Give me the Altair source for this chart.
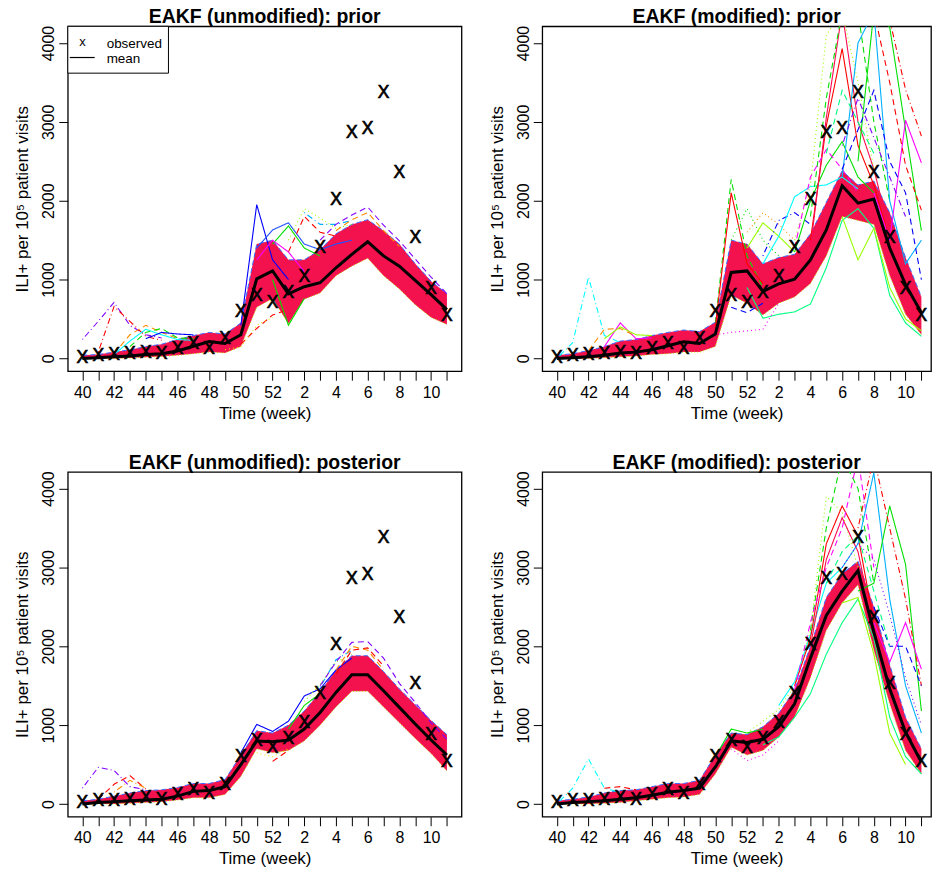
import json
import altair as alt
import pandas as pd

# ---------------- data ----------------
weeks = [40, 41, 42, 43, 44, 45, 46, 47, 48, 49, 50, 51, 52, 1, 2, 3, 4, 5, 6, 7, 8, 9, 10, 11]
week_labels = [str(w) if i % 2 == 0 else "" for i, w in enumerate(weeks)]
y_ticks = [0, 1000, 2000, 3000, 4000]

observed = [8, 35, 40, 50, 70, 55, 115, 177, 125, 245, 590, 797, 704, 830, 1033, 1400,
            2010, 2855, 2904, 3368, 2356, 1526, 881, 535]

# EAKF (unmodified): prior
tl_mean = [0, 10, 20, 30, 50, 60, 95, 155, 215, 190, 300, 1010, 1110, 820, 910, 960,
           1150, 1320, 1480, 1300, 1170, 990, 810, 620]
tl_low = [0, 0, 0, 5, 15, 25, 40, 60, 80, 70, 150, 650, 760, 440, 750, 830,
          1050, 1170, 1270, 1050, 880, 680, 520, 430]
tl_high = [40, 50, 80, 110, 150, 180, 240, 290, 330, 310, 450, 1450, 1500, 1250, 1250, 1380,
           1580, 1700, 1760, 1620, 1450, 1200, 980, 820]
tl_member_start = [0, 1, 2, 2, 3, 4, 10, 11, 12, 13, 14, 13, 15, 16, 10, 9, 11, 12]
tl_member_values = [
    [240, 470, 710, 420, 300, 260],
    [80, 660, 470, 280, 230],
    [60, 300, 420, 330, 250],
    [50, 220, 370, 300, 240, 230],
    [150, 330, 380, 260, 250],
    [250, 330, 310, 300],
    [420, 1950, 1250, 1000],
    [1400, 1630, 1720, 1450, 1380, 1450, 1500],
    [1450, 1680, 1400, 1300],
    [1500, 1900, 1780, 1650, 1700],
    [1850, 1700, 1700, 1750],
    [1350, 1800, 1600, 1550],
    [1500, 1700, 1820, 1920, 1690, 1490, 1260, 1030, 820],
    [1620, 1760, 1850, 1620, 1420],
    [180, 380, 550, 620],
    [110, 150, 420, 520],
    [1250, 1500, 1350, 1100],
    [1000, 420, 760],
]

# EAKF (modified): prior
tr_mean = [0, 10, 20, 40, 70, 80, 110, 160, 210, 190, 310, 1090, 1110, 850, 945, 1005,
           1250, 1630, 2190, 1970, 2020, 1400, 935, 578]
tr_low = [0, 0, 0, 10, 20, 30, 50, 60, 80, 80, 150, 800, 700, 550, 700, 780,
          950, 1300, 1800, 1750, 1700, 1050, 560, 300]
tr_high = [40, 60, 100, 150, 220, 240, 290, 330, 360, 340, 460, 1500, 1450, 1200, 1280, 1320,
           1580, 1980, 2380, 2200, 2250, 1850, 1280, 780]
tr_member_start = [0, 3, 2, 3, 10, 10, 11, 12, 12, 13, 13, 15, 16, 16, 16, 15, 15, 18, 19,
                   20, 20, 20, 18, 12, 18, 10, 11, 17, 18]
tr_member_values = [
    [0, 200, 1030, 290, 200],
    [150, 450, 250, 260],
    [100, 370, 380, 280],
    [250, 400, 300, 290],
    [450, 2270, 1300, 900],
    [400, 2100, 1200, 950],
    [1500, 1900, 1500, 1300],
    [1600, 1850, 1700, 1500],
    [1400, 1720, 1550, 1350],
    [1300, 1750, 1850, 1700],
    [1200, 1550, 2050, 2180, 2200, 2300, 2150],
    [1350, 2000, 2450, 2750, 2300, 2100],
    [1500, 2950, 3930, 2700, 2200, 1500],
    [1400, 3050, 4400, 3000, 2400, 1600],
    [1800, 3300, 4400, 4400, 3000, 2000],
    [1500, 2200, 4100, 4400, 3500, 2400],
    [1400, 2300, 2650, 2400, 2100],
    [2300, 4000, 4400, 2000, 1200, 1500],
    [2500, 4400, 4200, 2900, 1620],
    [2100, 1500, 3020, 2480],
    [4400, 3500, 2450, 1880],
    [4400, 4300, 3410, 2820],
    [2400, 2900, 3400, 2500, 2100, 1000],
    [900, 510, 560, 590, 690, 1150, 1750, 1900, 1650, 800, 450, 280],
    [1800, 1250, 1650, 900, 500, 350],
    [300, 330, 350, 370, 700],
    [650, 580, 700],
    [2600, 3400, 3000, 2600],
    [2700, 3300, 2800, 2300, 1800],
]

# EAKF (unmodified): posterior
bl_mean = [0, 20, 30, 40, 50, 60, 100, 160, 170, 220, 500, 800, 790, 810, 950, 1160,
           1415, 1640, 1640, 1436, 1225, 1014, 811, 621]
bl_low = [0, 0, 0, 10, 20, 30, 50, 80, 80, 120, 350, 700, 650, 680, 800, 1000,
          1230, 1430, 1430, 1230, 1030, 830, 640, 420]
bl_high = [40, 60, 100, 140, 170, 180, 210, 260, 260, 310, 620, 930, 900, 1000, 1180, 1420,
           1700, 1880, 1880, 1680, 1460, 1260, 1060, 880]
bl_member_start = [0, 1, 2, 10, 13, 14, 15, 16, 16, 15, 11, 12]
bl_member_values = [
    [200, 465, 425, 220, 180],
    [60, 250, 360, 190],
    [150, 300, 200],
    [650, 1010, 920, 1050, 1370, 1460, 1700, 1850],
    [950, 1250, 1400],
    [1300, 1520, 1800, 1900],
    [1480, 1830, 1950],
    [1700, 2000, 1950, 1700],
    [1650, 1950, 1980, 1750],
    [1500, 1800, 2050, 2060, 1850, 1530, 1290, 1030, 820],
    [650, 600, 700],
    [540, 680],
]

# EAKF (modified): posterior
br_mean = [0, 20, 30, 40, 60, 80, 110, 150, 170, 200, 470, 800, 780, 820, 980, 1270,
           1850, 2390, 2700, 2960, 2180, 1460, 910, 530]
br_low = [0, 0, 0, 10, 20, 40, 60, 80, 90, 120, 380, 720, 620, 680, 850, 1100,
          1600, 2200, 2550, 2780, 1950, 1270, 680, 380]
br_high = [40, 60, 90, 140, 170, 180, 220, 260, 260, 300, 620, 900, 880, 980, 1150, 1450,
           2000, 2620, 2920, 3080, 2500, 1770, 1100, 700]
br_member_start = [0, 3, 10, 12, 14, 15, 16, 16, 15, 18, 19, 19, 20, 20, 13, 18, 11, 17, 18]
br_member_values = [
    [0, 200, 570, 200, 150],
    [200, 220, 180],
    [600, 950, 900, 950],
    [900, 1050, 1200, 1500, 2200, 3900, 3700, 3000],
    [1250, 1550, 2150, 2800, 3000],
    [1500, 2100, 3300, 3780, 3400, 2300],
    [2000, 3100, 3630, 3200, 2250],
    [2200, 3500, 4400, 4000, 2800],
    [1450, 2300, 3000, 3500, 4400, 3000],
    [3000, 3300, 4200, 2600, 1500, 900],
    [2700, 2800, 3780, 3040, 1180],
    [3500, 4400, 3500, 2600, 1500],
    [2300, 1800, 2300, 1710],
    [2500, 2000, 2000, 1500],
    [750, 850, 1100, 1400, 1900, 2300, 2600, 2100, 1100, 600, 380],
    [2550, 2620, 1900, 900, 500],
    [700, 550, 620, 800],
    [2800, 3200, 3400, 2700, 2000],
    [3000, 3300, 3100, 2400, 1600, 1000],
]

# ---------------- styles ----------------
tl_member_styles = [("purple", "dashdot"), ("red", "dashdot"), ("orange", "dashed"), ("cyan", "solid"),
                    ("green", "dashed"), ("blue", "solid"), ("blue", "solid"), ("royal", "solid"),
                    ("green", "solid"), ("yellowgreen", "dotted"), ("deepsky", "dashdot"),
                    ("red", "dashed"), ("purple", "dashed"), ("orange", "dashed"), ("red", "dashed"),
                    ("yellow", "dotted"), ("magenta", "solid"), ("green", "solid")]
tr_member_styles = [("cyan", "dashdot"), ("magenta", "solid"), ("orange", "dashed"), ("yellowgreen", "solid"),
                    ("green", "dashed"), ("red", "solid"), ("green", "dotted"), ("orange", "dotted"),
                    ("yellowgreen", "solid"), ("blue", "dashdot"), ("cyan", "solid"), ("green", "solid"),
                    ("red", "solid"), ("crimson", "solid"), ("green", "dashed"), ("yellowgreen", "dotted"),
                    ("magenta", "dashed"), ("deepsky", "solid"), ("green", "solid"), ("magenta", "solid"),
                    ("red", "dashed"), ("red", "dashdot"), ("blue", "dashed"), ("springgreen", "solid"),
                    ("yellowgreen", "solid"), ("magenta", "dotted"), ("blue", "dashed"),
                    ("springgreen", "dashed"), ("purple", "dashdot")]
bl_member_styles = [("purple", "dashdot"), ("red", "dashed"), ("orange", "dashdot"), ("blue", "solid"),
                    ("green", "solid"), ("yellowgreen", "dotted"), ("deepsky", "dashdot"),
                    ("orange", "dashed"), ("red", "dashed"), ("purple", "dashed"), ("yellow", "dotted"),
                    ("red", "dashed")]
br_member_styles = [("cyan", "dashdot"), ("red", "dashed"), ("green", "solid"), ("yellowgreen", "dotted"),
                    ("cyan", "solid"), ("red", "solid"), ("crimson", "solid"), ("green", "dashed"),
                    ("magenta", "dashed"), ("deepsky", "solid"), ("green", "solid"), ("red", "dashdot"),
                    ("magenta", "solid"), ("blue", "dashed"), ("springgreen", "solid"),
                    ("yellowgreen", "solid"), ("magenta", "dotted"), ("springgreen", "dashed"),
                    ("purple", "dotted")]

palette = {"red": "#FF0000", "crimson": "#FF0A50", "orange": "#FF8C00", "yellow": "#E8E800",
           "yellowgreen": "#99FF00", "green": "#00E000", "springgreen": "#00FF80", "cyan": "#00FFFF",
           "deepsky": "#00B0FF", "blue": "#0000FF", "royal": "#2050FF", "purple": "#8000FF",
           "magenta": "#FF00FF"}
dashes = {"solid": [1, 0], "dashed": [6, 4], "dotted": [1, 3], "dashdot": [1, 3, 6, 3]}

FONT = "Liberation Sans"
BAND = "#F4124E"
H = 346
PX_PER_WEEK = 395 / 24.84
Y_DOMAIN = [-162, 4212]


def make_panel(title, mean, low, high, m_start, m_values, m_styles, width, legend=False):
    xdom = [-0.92, -0.92 + width / PX_PER_WEEK]
    idx = list(range(len(weeks)))
    base = pd.DataFrame({"idx": idx, "mean": mean, "low": low, "high": high, "obs": observed})

    rows = []
    for k, (s, vals) in enumerate(zip(m_start, m_values)):
        col, dash = m_styles[k]
        for j, v in enumerate(vals):
            rows.append({"mid": k, "idx": s + j, "value": v, "col": col, "dash": dash})
    members = pd.DataFrame(rows)

    label_expr = json.dumps(week_labels) + "[datum.value]"
    xaxis = alt.Axis(values=idx, labelExpr=label_expr, title="Time (week)", domain=False, grid=False,
                     tickSize=9, tickColor="black", tickWidth=1, labelFont=FONT, labelFontSize=16,
                     labelColor="black", labelBaseline="alphabetic", labelPadding=17, labelAngle=0,
                     labelFlush=False, labelOverlap=False, labelBound=False,
                     titleFont=FONT, titleFontSize=17, titleFontWeight="normal", titleColor="black",
                     titleX=width / 2, titleY=47, titleBaseline="alphabetic", titleAlign="center")
    yaxis = alt.Axis(values=y_ticks, format="d", title="ILI+ per 10⁵ patient visits", domain=False,
                     grid=False, tickSize=9, tickColor="black", tickWidth=1, labelFont=FONT,
                     labelFontSize=16, labelColor="black", labelAngle=270, labelAlign="center",
                     labelBaseline="alphabetic", labelPadding=5, labelFlush=False, labelOverlap=False,
                     titleFont=FONT, titleFontSize=17, titleFontWeight="normal", titleColor="black",
                     titleAngle=270, titleX=-40, titleY=H / 2, titleAlign="center",
                     titleBaseline="alphabetic")

    def X(field="idx"):
        return alt.X(f"{field}:Q", scale=alt.Scale(domain=xdom, nice=False, zero=False), axis=xaxis)

    def Y(field):
        return alt.Y(f"{field}:Q", scale=alt.Scale(domain=Y_DOMAIN, nice=False, zero=False), axis=yaxis)

    band = alt.Chart(base).mark_area(color=BAND, clip=True, opacity=1).encode(
        x=X(), y=Y("low"), y2="high:Q")
    upper = alt.Chart(base).mark_line(color="#3D6BFF", strokeWidth=1, strokeDash=[5, 3], clip=True).encode(
        x=X(), y=Y("high"))
    lower = alt.Chart(base).mark_line(color="#B8F000", strokeWidth=1, strokeDash=[1, 2], clip=True).encode(
        x=X(), y=Y("low"))
    mem = alt.Chart(members).mark_line(strokeWidth=1.1, clip=True).encode(
        x=X(), y=Y("value"),
        color=alt.Color("col:N", scale=alt.Scale(domain=list(palette.keys()), range=list(palette.values())),
                        legend=None),
        strokeDash=alt.StrokeDash("dash:N", scale=alt.Scale(domain=list(dashes.keys()),
                                                             range=list(dashes.values())), legend=None),
        detail="mid:N")
    mline = alt.Chart(base).mark_line(color="black", strokeWidth=3, clip=True).encode(x=X(), y=Y("mean"))
    obs = alt.Chart(base).mark_text(text="X", font=FONT, fontSize=17.5, color="black", stroke="black",
                                    strokeWidth=0.7, baseline="middle", align="center").encode(
        x=X(), y=Y("obs"))
    one = pd.DataFrame({"k": [0]})
    ttl = alt.Chart(one).mark_text(text=title, font=FONT, fontSize=19.5, fontWeight="bold", color="black",
                                   align="center", baseline="alphabetic").encode(
        x=alt.value(width / 2), y=alt.value(-3))
    layers = [band, upper, lower, mem, mline, obs, ttl]

    if legend:
        box = alt.Chart(one).mark_rect(fill="white", stroke="black", strokeWidth=1).encode(
            x=alt.value(0), x2=alt.value(101), y=alt.value(0), y2=alt.value(47))
        lx = alt.Chart(one).mark_text(text="x", font=FONT, fontSize=13, color="black",
                                      align="center", baseline="alphabetic").encode(
            x=alt.value(14.7), y=alt.value(19.5))
        lline = alt.Chart(one).mark_rule(color="black", strokeWidth=1.2).encode(
            x=alt.value(2), x2=alt.value(27), y=alt.value(31.3))
        t1 = alt.Chart(one).mark_text(text="observed", font=FONT, fontSize=13.5, color="black",
                                      align="left", baseline="alphabetic").encode(
            x=alt.value(39), y=alt.value(21.5))
        t2 = alt.Chart(one).mark_text(text="mean", font=FONT, fontSize=13.5, color="black",
                                      align="left", baseline="alphabetic").encode(
            x=alt.value(39), y=alt.value(36.5))
        layers += [box, lx, lline, t1, t2]

    return alt.layer(*layers).properties(width=width, height=H)


tl = make_panel("EAKF (unmodified): prior", tl_mean, tl_low, tl_high,
                tl_member_start, tl_member_values, tl_member_styles, 395, legend=True)
tr = make_panel("EAKF (modified): prior", tr_mean, tr_low, tr_high,
                tr_member_start, tr_member_values, tr_member_styles, 390)
bl = make_panel("EAKF (unmodified): posterior", bl_mean, bl_low, bl_high,
                bl_member_start, bl_member_values, bl_member_styles, 395)
br = make_panel("EAKF (modified): posterior", br_mean, br_low, br_high,
                br_member_start, br_member_values, br_member_styles, 390)

row1 = alt.hconcat(tl, tr, spacing=25)
row2 = alt.hconcat(bl, br, spacing=25)
chart = alt.vconcat(row1, row2, spacing=30).properties(
    padding={"left": 13, "top": 5, "right": 0, "bottom": 0},
    background="white",
).configure_view(stroke="black", strokeWidth=1.3)

chart.save("out.html", embed_options={"renderer": "svg", "actions": False})
